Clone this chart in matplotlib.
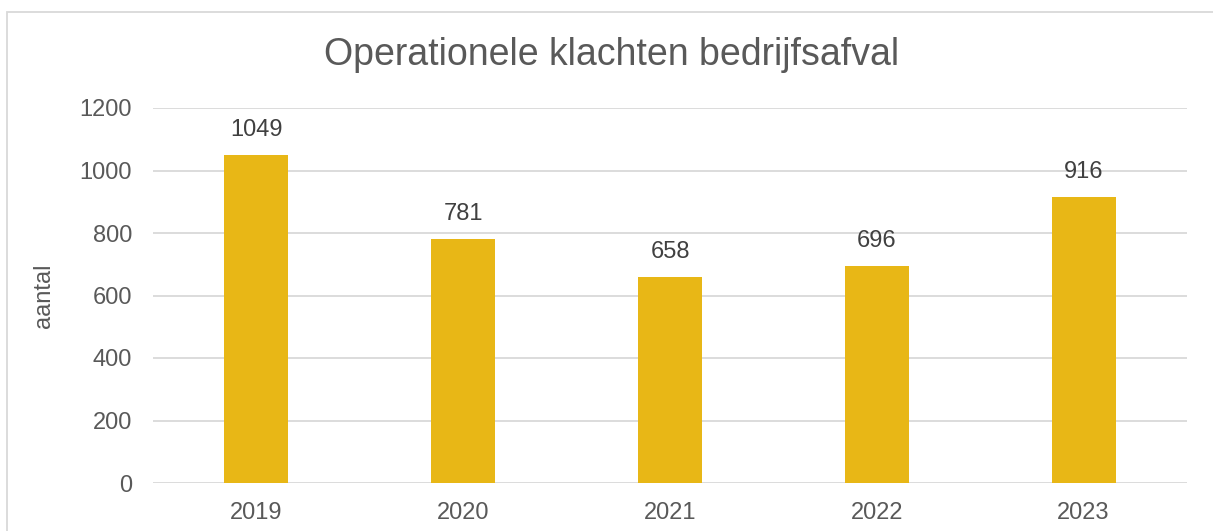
import matplotlib.pyplot as plt
from matplotlib.patches import Rectangle

years = ['2019', '2020', '2021', '2022', '2023']
klachten = [1049, 781, 658, 696, 916]
yticks = [0, 200, 400, 600, 800, 1000, 1200]

GREY = '#595959'
LABEL = '#404040'
BAR = '#E8B716'
GRID = '#D9D9D9'

plt.rcParams['font.family'] = ['Liberation Sans', 'DejaVu Sans']

fig = plt.figure(figsize=(12.13, 5.31), dpi=100)
ax = fig.add_axes([153/1213, 1-483/531, (1187-153)/1213, (483-108)/531])

x = range(len(years))
ax.bar(x, klachten, width=0.31, color=BAR, zorder=3)
for i, v in zip(x, klachten):
    ax.annotate(str(v), (i, v), xytext=(0, 10), textcoords='offset points',
                ha='center', va='bottom', fontsize=17, color=LABEL)

ax.set_xlim(-0.5, len(years) - 0.5)
ax.set_ylim(0, 1200)
ax.set_yticks(yticks)
ax.set_xticks(list(x))
ax.set_xticklabels(years)
ax.tick_params(length=0, labelsize=17, labelcolor=GREY)
ax.tick_params(axis='y', pad=15)
ax.tick_params(axis='x', pad=14)
ax.yaxis.grid(True, color=GRID, lw=1.3, zorder=0)
for s in ax.spines.values():
    s.set_visible(False)
ax.set_ylabel('aantal', fontsize=17, color=GREY, labelpad=18)

fig.text(612/1213, 1-55/531, 'Operationele klachten bedrijfsafval',
         ha='center', va='center', fontsize=27, color=GREY)

fig.patches.append(Rectangle((7/1213, -0.1), 1.2, 1-12/531+0.1,
                             transform=fig.transFigure, fill=False,
                             edgecolor=GRID, lw=1.3))

fig.savefig('out.png', dpi=100)
